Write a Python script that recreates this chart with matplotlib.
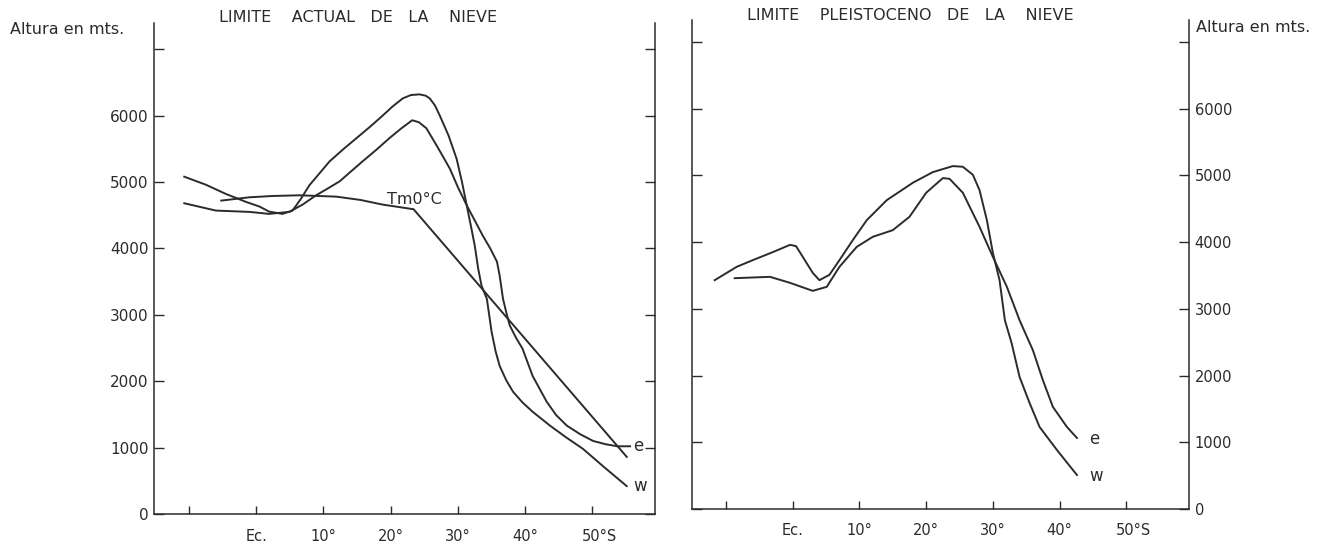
import numpy as np
import matplotlib
matplotlib.use("Agg")
import matplotlib.pyplot as plt
import matplotlib.transforms as mtransforms

# ==========================
# DATA
# ==========================

# latitude in degrees (0 = Ec., positive = south), height in metres

# --- Limite actual de la nieve ---
act_w_lat = [-10.7, -7.5, -4.5, -1.5, 0.5, 1.9, 3.9, 5.4, 6.6, 7.9, 9.4, 10.9,
             12.9, 14.9, 16.9, 18.8, 20.3, 21.8, 23.0, 24.3, 25.2, 25.8, 26.6,
             27.3, 28.6, 29.8, 30.6, 31.3, 32.0, 32.5, 33.0, 33.5, 34.3, 35.0,
             35.6, 36.2, 37.2, 38.2, 39.6, 41.1, 43.7, 46.0, 48.6, 51.8, 55.1]
act_w_alt = [5080, 4960, 4820, 4700, 4630, 4555, 4520, 4570, 4740, 4950, 5130,
             5310, 5490, 5660, 5830, 6000, 6140, 6260, 6310, 6320, 6300, 6260,
             6150, 6000, 5700, 5350, 5000, 4650, 4300, 4040, 3700, 3440, 3240,
             2745, 2450, 2230, 2010, 1840, 1680, 1540, 1330, 1160, 980, 700, 420]

act_e_lat = [-10.7, -6.0, -1.0, 1.9, 4.9, 6.9, 8.9, 10.6, 12.4, 14.1, 15.8,
             17.8, 19.8, 21.6, 23.2, 24.2, 25.3, 27.0, 28.8, 30.0, 31.3, 32.5,
             33.7, 34.8, 35.8, 36.2, 36.7, 37.2, 37.7, 38.6, 39.6, 41.1, 43.2,
             44.6, 46.2, 48.2, 50.1, 52.0, 53.7, 55.6]
act_e_alt = [4680, 4570, 4550, 4520, 4550, 4660, 4800, 4900, 5010, 5160, 5310,
             5480, 5660, 5810, 5930, 5900, 5810, 5520, 5200, 4920, 4650, 4420,
             4190, 4000, 3800, 3590, 3240, 3030, 2840, 2660, 2490, 2080, 1690,
             1490, 1330, 1200, 1100, 1050, 1020, 1020]

act_tm_lat = [-5.2, -1.0, 2.5, 6.4, 11.9, 15.5, 18.8, 23.4, 55.1]
act_tm_alt = [4720, 4770, 4790, 4800, 4780, 4730, 4660, 4590, 860]

# --- Limite pleistoceno de la nieve ---
ple_w_lat = [-11.7, -8.4, -6.0, -3.0, -0.4, 0.5, 1.5, 3.0, 4.0, 5.5, 7.0, 9.0,
             11.1, 14.1, 18.0, 21.0, 24.0, 25.5, 27.0, 28.0, 29.1, 30.0, 31.0,
             31.8, 32.8, 34.0, 35.5, 37.0, 39.6, 42.6]
ple_w_alt = [3430, 3630, 3730, 3850, 3960, 3940, 3780, 3540, 3430, 3510, 3730,
             4030, 4330, 4630, 4890, 5050, 5140, 5130, 5010, 4780, 4330, 3840,
             3430, 2830, 2490, 1980, 1590, 1230, 885, 510]

ple_e_lat = [-8.7, -3.4, -0.4, 3.0, 5.1, 7.0, 9.6, 12.0, 15.0, 17.5, 20.0,
             22.5, 23.5, 25.5, 28.0, 30.0, 32.1, 34.0, 36.0, 37.5, 39.0, 41.1,
             42.6]
ple_e_alt = [3460, 3480, 3390, 3270, 3330, 3630, 3930, 4080, 4180, 4380, 4740,
             4960, 4950, 4740, 4230, 3780, 3330, 2830, 2380, 1930, 1530, 1230,
             1065]

lat_ticks = [-10, 0, 10, 20, 30, 40, 50]
lat_labels = ["", "Ec.", "10°", "20°", "30°", "40°", "50°S"]
alt_ticks = [0, 1000, 2000, 3000, 4000, 5000, 6000, 7000]
alt_labels = ["0", "1000", "2000", "3000", "4000", "5000", "6000", ""]

# ==========================
# STYLE
# ==========================
plt.rcParams["font.family"] = ["DejaVu Sans"]
INK = "#2b2b2b"
LW = 1.4

W, H = 1330, 552
fig = plt.figure(figsize=(W / 100, H / 100), dpi=100)


def px_axes(x0, y_top, x1, y_bot):
    return fig.add_axes([x0 / W, (H - y_bot) / H, (x1 - x0) / W, (y_bot - y_top) / H])


def style_axis(ax, xlim, ylim, label_side, xpad, ysize):
    ax.set_xlim(*xlim)
    ax.set_ylim(*ylim)
    ax.spines["top"].set_visible(False)
    for s in ("left", "right", "bottom"):
        ax.spines[s].set_color(INK)
        ax.spines[s].set_linewidth(1.1)
    ax.set_xticks(lat_ticks)
    ax.set_xticklabels(lat_labels)
    ax.set_yticks(alt_ticks)
    ax.set_yticklabels(alt_labels)
    ax.tick_params(axis="x", direction="in", length=6, width=1.0, color=INK,
                   labelsize=10.5, labelcolor=INK, pad=xpad)
    ax.tick_params(axis="y", direction="in", length=7, width=1.0, color=INK,
                   labelsize=ysize, labelcolor=INK, left=True, right=True,
                   labelleft=(label_side == "left"),
                   labelright=(label_side == "right"), pad=4)
    # "50°S" sits a little right of its tick
    lab = ax.get_xticklabels()[-1]
    lab.set_transform(lab.get_transform() +
                      mtransforms.ScaledTranslation(7 / 100, 0, fig.dpi_scale_trans))
    ax.patch.set_alpha(0)


# ---- left panel: actual ----
ax1 = px_axes(154, 23, 655, 514)
style_axis(ax1, (-15.2, 59.3), (0, 7395), "left", 11, 11)
ax1.plot(act_w_lat, act_w_alt, color=INK, lw=LW, solid_joinstyle="round")
ax1.plot(act_e_lat, act_e_alt, color=INK, lw=LW, solid_joinstyle="round")
ax1.plot(act_tm_lat, act_tm_alt, color=INK, lw=LW, solid_joinstyle="round")
ax1.text(19.4, 4740, "Tm0°C", fontsize=11.5, color=INK, ha="left", va="center")
ax1.text(56.1, 1030, "e", fontsize=12, color=INK, ha="left", va="center")
ax1.text(56.1, 420, "w", fontsize=12, color=INK, ha="left", va="center")

# ---- right panel: pleistoceno ----
ax2 = px_axes(692, 20, 1189, 509)
style_axis(ax2, (-15.1, 59.4), (0, 7330), "right", 10, 10.5)
ax2.plot(ple_w_lat, ple_w_alt, color=INK, lw=LW, solid_joinstyle="round")
ax2.plot(ple_e_lat, ple_e_alt, color=INK, lw=LW, solid_joinstyle="round")
ax2.text(44.5, 1050, "e", fontsize=12, color=INK, ha="left", va="center")
ax2.text(44.5, 500, "w", fontsize=12, color=INK, ha="left", va="center")

# ---- titles and axis captions ----
fig.text(358 / W, 1 - 18 / H, "LIMITE    ACTUAL   DE   LA    NIEVE", fontsize=11.5,
         color=INK, ha="center", va="center")
fig.text(910 / W, 1 - 16 / H, "LIMITE    PLEISTOCENO   DE   LA    NIEVE", fontsize=11.5,
         color=INK, ha="center", va="center")
fig.text(10 / W, 1 - 30 / H, "Altura en mts.", fontsize=11.5, color=INK,
         ha="left", va="center")
fig.text(1196 / W, 1 - 28 / H, "Altura en mts.", fontsize=11.5, color=INK,
         ha="left", va="center")

fig.savefig("out.png", dpi=100, facecolor="white")
